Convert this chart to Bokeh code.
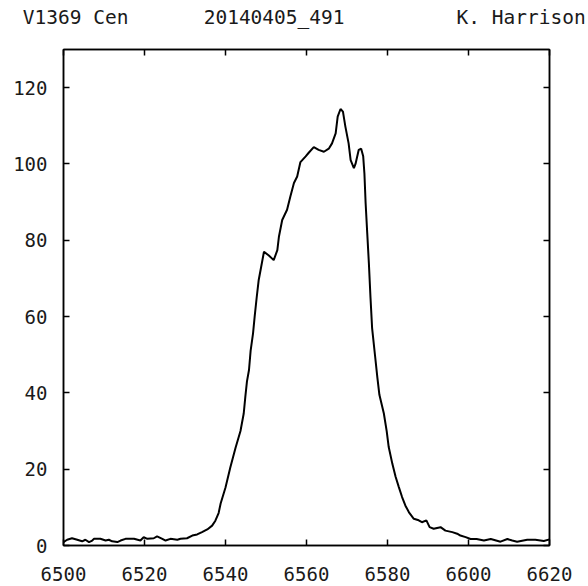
from bokeh.plotting import figure
from bokeh.models import LinearAxis, FixedTicker, Range1d
from bokeh.embed import file_html
from bokeh.resources import INLINE

# ---- data ----
wavelength = [
    6500.0, 6500.9, 6502.1, 6503.4, 6504.6, 6505.4, 6506.3, 6507.1, 6507.5, 6509.1,
    6510.4, 6511.2, 6512.0, 6513.3, 6514.1, 6515.3, 6517.4, 6519.0, 6519.8, 6520.7,
    6522.3, 6523.1, 6524.4, 6525.2, 6526.4, 6528.1, 6528.9, 6530.5, 6531.8, 6533.0,
    6534.2, 6535.5, 6536.7, 6537.5, 6538.3, 6538.8, 6540.0, 6541.2, 6542.5, 6543.7,
    6544.5, 6544.9, 6545.3, 6545.8, 6546.2, 6546.8, 6547.2, 6547.7, 6548.2, 6548.8,
    6549.5, 6550.7, 6551.9, 6552.8, 6553.2, 6554.0, 6555.2, 6556.0, 6556.9, 6557.7,
    6558.5, 6559.8, 6560.6, 6561.8, 6563.0, 6564.3, 6565.5, 6566.3, 6567.2, 6567.7,
    6568.4, 6569.0, 6569.6, 6570.4, 6570.9, 6571.7, 6572.1, 6572.9, 6573.5, 6574.0,
    6574.3, 6574.6, 6575.0, 6575.4, 6575.8, 6576.2, 6576.9, 6577.5, 6578.0, 6579.1,
    6579.8, 6580.3, 6581.2, 6582.0, 6582.8, 6583.6, 6584.4, 6585.3, 6586.5, 6587.7,
    6588.5, 6589.6, 6590.4, 6591.4, 6593.1, 6594.3, 6596.0, 6597.2, 6598.0, 6599.3,
    6600.5, 6602.0, 6603.8, 6605.5, 6607.9, 6609.6, 6610.8, 6612.0, 6614.5, 6616.5,
    6618.6, 6620.0,
]
flux = [
    0.9, 1.5, 1.9, 1.5, 1.1, 1.5, 0.9, 1.3, 1.75, 1.75,
    1.3, 1.5, 1.1, 0.9, 1.3, 1.75, 1.75, 1.3, 2.2, 1.75,
    1.9, 2.4, 1.75, 1.3, 1.75, 1.5, 1.75, 1.9, 2.6, 2.9,
    3.5, 4.2, 5.2, 6.5, 8.5, 11.0, 15.2, 20.5, 25.7, 30.0,
    34.6, 39.0, 43.0, 46.0, 51.0, 55.6, 60.0, 65.0, 69.6, 73.0,
    77.0, 76.0, 74.8, 77.4, 81.0, 85.3, 88.0, 91.4, 95.0, 96.7,
    100.5, 102.0, 103.0, 104.4, 103.7, 103.2, 104.0, 105.4, 108.0, 112.4,
    114.4, 113.7, 109.8, 105.4, 101.0, 98.9, 100.0, 103.7, 104.0, 102.0,
    97.5, 89.7, 81.8, 74.0, 65.0, 57.0, 50.0, 44.0, 39.5, 34.6,
    30.0, 25.8, 21.4, 18.0, 15.3, 12.7, 10.5, 8.7, 7.0, 6.6,
    6.1, 6.6, 4.8, 4.4, 4.8, 3.9, 3.5, 3.1, 2.6, 2.2,
    1.7, 1.7, 1.3, 1.7, 1.0, 1.7, 1.3, 1.0, 1.5, 1.5,
    1.2, 1.6,
]
x_ticks = [6500, 6520, 6540, 6560, 6580, 6600, 6620]
y_ticks = [0, 20, 40, 60, 80, 100, 120]
title_texts = ["V1369 Cen", "20140405_491", "K. Harrison"]
title_anchor_x = [6503, 6552, 6613]   # x value under the centre of each header text

# ---- layout ----
W, H = 588, 586
BL, BR, BT, BB = 63, 39, 49, 41
X0, X1 = 6500, 6620
Y0, Y1 = 0, 130
FONT = "DejaVu Sans Mono"
FSIZE = "19px"
TSIZE = "19.5px"

p = figure(width=W, height=H, x_range=Range1d(X0, X1), y_range=Range1d(Y0, Y1),
           output_backend="svg", toolbar_location=None,
           min_border_left=BL, min_border_right=BR, min_border_top=BT, min_border_bottom=BB,
           background_fill_color="white", border_fill_color="white",
           outline_line_color="black", outline_line_width=1.5)
p.grid.visible = False


def style_axis(ax, ticks, show_labels, standoff):
    ax.ticker = FixedTicker(ticks=ticks)
    ax.major_tick_in = 6
    ax.major_tick_out = 0
    ax.minor_tick_in = 0
    ax.minor_tick_out = 0
    ax.major_tick_line_color = "black"
    ax.major_tick_line_width = 1.5
    ax.axis_line_color = "black"
    ax.axis_line_width = 1.5
    ax.major_label_standoff = standoff
    ax.major_label_text_font = FONT
    ax.major_label_text_color = "#1a1a1a"
    if show_labels:
        ax.major_label_text_font_size = FSIZE
    else:
        ax.major_label_text_font_size = "0px"
        ax.major_label_text_color = None


style_axis(p.xaxis[0], x_ticks, True, 21)
style_axis(p.yaxis[0], y_ticks, True, 16)

top_axis = LinearAxis()
style_axis(top_axis, x_ticks, False, 0)
p.add_layout(top_axis, "above")

right_axis = LinearAxis()
style_axis(right_axis, y_ticks, False, 0)
p.add_layout(right_axis, "right")

# header texts drawn as labels of an extra (invisible-line) top axis
header_axis = LinearAxis()
header_axis.ticker = FixedTicker(ticks=title_anchor_x)
header_axis.axis_line_color = None
header_axis.major_tick_line_color = None
header_axis.minor_tick_line_color = None
header_axis.major_label_standoff = 15
header_axis.major_label_text_font = FONT
header_axis.major_label_text_font_size = TSIZE
header_axis.major_label_text_color = "#1a1a1a"
overrides = {}
for v, t in zip(title_anchor_x, title_texts):
    overrides[v] = t
    overrides[str(v)] = t
header_axis.major_label_overrides = overrides
p.add_layout(header_axis, "above")

p.line(wavelength, flux, line_color="black", line_width=2)

open("out.html", "w").write(file_html(p, INLINE))
